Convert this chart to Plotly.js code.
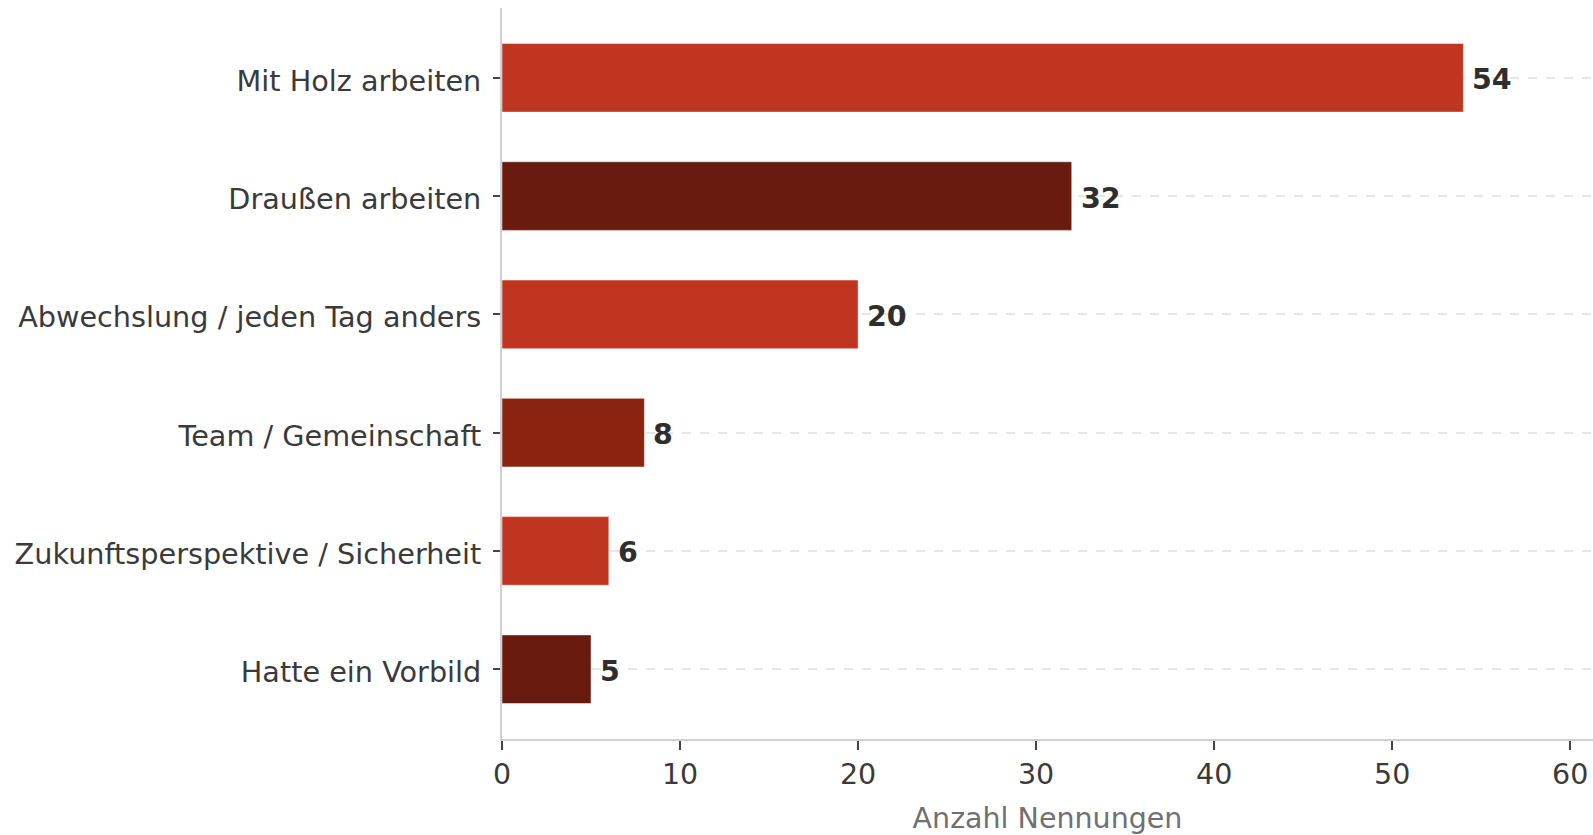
<!DOCTYPE html>
<html>
<head>
<meta charset="utf-8">
<script src="https://cdn.plot.ly/plotly-3.0.1.min.js"></script>
<style>html,body{margin:0;padding:0;background:#fff;}#chart{width:1593px;height:835px;}</style>
</head>
<body>
<div id="chart"></div>
<script>
const categories = ["Mit Holz arbeiten", "Draußen arbeiten", "Abwechslung / jeden Tag anders", "Team / Gemeinschaft", "Zukunftsperspektive / Sicherheit", "Hatte ein Vorbild"];
const values = [54, 32, 20, 8, 6, 5];
const barColors = ["#C0351F", "#6A1B10", "#C0351F", "#8A2411", "#C0351F", "#6A1B10"];
const xTickValues = [0, 10, 20, 30, 40, 50, 60];
const xTitle = "Anzahl Nennungen";

const trace = {
  type: "bar",
  orientation: "h",
  x: values,
  y: categories,
  width: 0.58,
  marker: { color: barColors, line: { color: "rgba(255,255,255,0.6)", width: 0.8 } },
  hoverinfo: "skip"
};

const annotations = values.map((v, i) => ({
  x: v, y: categories[i], xref: "x", yref: "y",
  text: String(v), showarrow: false, xanchor: "left", yanchor: "middle",
  xshift: 7, yshift: -2,
  font: { family: "DejaVu Sans", size: 28.5, color: "#2e2e2e", weight: "bold" }
}));

const layout = {
  width: 1593, height: 835,
  margin: { l: 502, r: 0, t: 8, b: 96, pad: 0 },
  paper_bgcolor: "#fff", plot_bgcolor: "#fff",
  showlegend: false,
  font: { family: "DejaVu Sans", color: "#3a3a3a" },
  xaxis: {
    range: [0, 61.28],
    tickvals: xTickValues,
    ticktext: xTickValues.map(String),
    showgrid: false, zeroline: false,
    showline: true, linecolor: "#d0d0d0", linewidth: 2,
    ticks: "outside", ticklen: 9, tickwidth: 2, tickcolor: "#444",
    tickfont: { family: "DejaVu Sans", size: 28.5, color: "#3a3a3a" },
    title: { text: xTitle, font: { family: "DejaVu Sans", size: 28.5, color: "#707070" }, standoff: 18 }
  },
  yaxis: {
    type: "category",
    categoryorder: "array", categoryarray: categories,
    range: [5.59, -0.59],
    showgrid: true, gridcolor: "#e6e6e6", griddash: "dash", gridwidth: 2,
    zeroline: false,
    showline: true, linecolor: "#d0d0d0", linewidth: 2,
    ticks: "outside", ticklen: 7, tickwidth: 2, tickcolor: "#444",
    tickfont: { family: "DejaVu Sans", size: 28.7, color: "#3a3a3a" },
    ticklabelstandoff: 6,
    ticklabelshift: -3
  },
  annotations: annotations
};

Plotly.newPlot("chart", [trace], layout, { displayModeBar: false, staticPlot: true });
</script>
</body>
</html>
